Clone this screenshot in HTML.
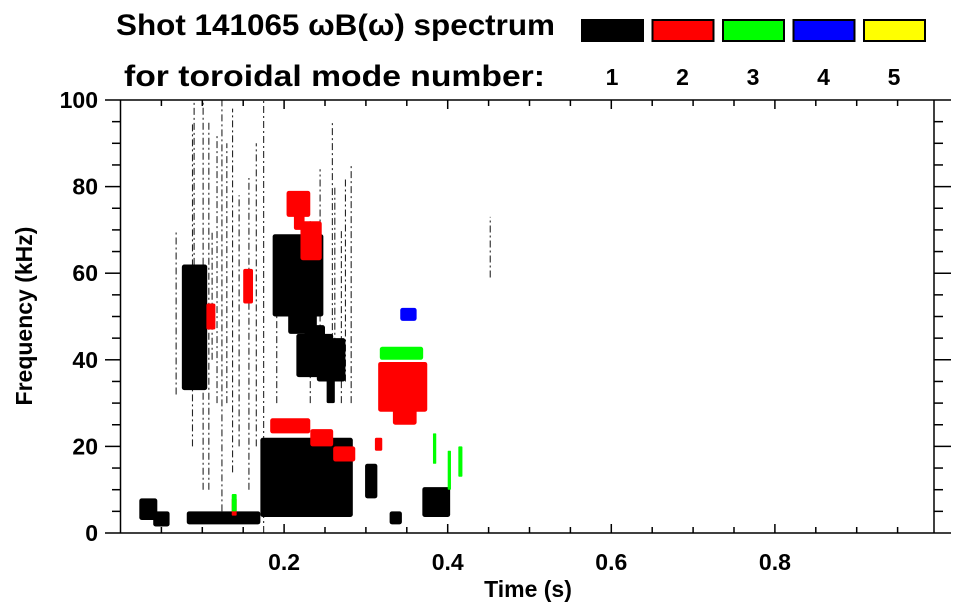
<!DOCTYPE html>
<html><head><meta charset="utf-8"><style>
html,body{margin:0;padding:0;background:#fff;}
svg{display:block;font-family:"Liberation Sans",Arial,sans-serif;font-weight:bold;}
</style></head><body>
<svg id="chart" width="963" height="615" viewBox="0 0 963 615">
<text x="116" y="35" font-size="30" textLength="439" lengthAdjust="spacingAndGlyphs">Shot 141065 ωB(ω) spectrum</text>
<text x="124" y="86" font-size="30" textLength="421" lengthAdjust="spacingAndGlyphs">for toroidal mode number:</text>
<g id="legend"></g>
<g id="marks"></g>
<g id="axes"></g>
<text x="528" y="597" font-size="23" text-anchor="middle">Time (s)</text>
<text transform="translate(32,316) rotate(-90)" font-size="23" text-anchor="middle">Frequency (kHz)</text>
</svg>
<script>
// ---- data ----
const modeColors = ["#000000","#ff0000","#00ff00","#0000ff","#ffff00"];
const modeLabels = ["1","2","3","4","5"];
const xTicks = [0.2,0.4,0.6,0.8];
const yTicks = [0,20,40,60,80,100];
// patches: time start, time end, freq low, freq high, mode index
const patchT0 = [0.171,0.176,0.186,0.192,0.205,0.225,0.075,0.080,0.299,0.369,0.375,0.023,0.040,0.081,0.329,0.215,0.240,0.252,
  0.203,0.212,0.220,0.183,0.232,0.260,0.315,0.333,0.311,0.105,0.150,0.136,
  0.317,0.382,0.400,0.413,0.136,0.342];
const patchT1 = [0.284,0.275,0.248,0.240,0.240,0.250,0.106,0.100,0.314,0.403,0.398,0.045,0.060,0.171,0.344,0.260,0.275,0.262,
  0.232,0.225,0.246,0.232,0.260,0.287,0.375,0.362,0.320,0.116,0.162,0.142,
  0.370,0.386,0.404,0.418,0.142,0.362];
const patchF0 = [3.7,6,50,54,46,38,33,40,8,3.7,5,3,1.5,2,2,36,35,30,
  73,70,63,23,20,16.5,28,25,19,47,53,4,
  40,16,10,13,5,49];
const patchF1 = [22,19,69,66,56,48,62,58,16,10.6,9,8,5,5,5,46,45,40,
  79,77,72,26.5,24,20,39.5,39,22,53,61,8,
  43,23,19,20,9,52];
const patchMode = [0,0,0,0,0,0,0,0,0,0,0,0,0,0,0,0,0,0,
  1,1,1,1,1,1,1,1,1,1,1,1,
  2,2,2,2,2,3];
// thin vertical spectral lines: time, freq low, freq high
const lineT = [0.068,0.101,0.108,0.124,0.130,0.137,0.157,0.175,0.244,0.259,0.262,0.270,0.282,0.088,0.118,0.145,0.191,0.232,0.452,0.090,0.112,0.166,0.275];
const lineF0 = [32,10,10,5,30,14,10,0,35,33,40,30,30,20,30,20,30,30,59,55,40,20,35];
const lineF1 = [70,100,95,100,90,98,82,100,84,95,80,70,85,95,92,78,68,72,73,100,70,90,82];

// ---- scales ----
const X0=120.5, X1=934, Y0=533, Y1=100;
const tMin=0, tMax=(X1-X0)/818;
function xs(t){return X0+(t-tMin)/(tMax-tMin)*(X1-X0);}
function ys(f){return Y0-(f/100)*(Y0-Y1);}
const NS="http://www.w3.org/2000/svg";
function mk(tag,attrs,parent){const e=document.createElementNS(NS,tag);for(const k in attrs)e.setAttribute(k,attrs[k]);parent.appendChild(e);return e;}

// legend
const lg=document.getElementById('legend');
modeColors.forEach((c,i)=>{
  const bx=582+i*70.5;
  const r=mk('rect',{x:bx,y:20,width:61,height:21,fill:c,stroke:'#000','stroke-width':2},lg);
  
  
  const t=mk('text',{x:bx+30,y:85,'font-size':23,'text-anchor':'middle'},lg);
  t.textContent=modeLabels[i];
  
  
});

// marks
const mg=document.getElementById('marks');
for(let i=0;i<lineT.length;i++){
  const x=xs(lineT[i]);
  const l=mk('line',{x1:x,x2:x,y1:ys(lineF0[i]),y2:ys(lineF1[i]),stroke:'#000','stroke-width':1.1,'stroke-dasharray':'7 3 2 3',opacity:0.85},mg);
  
  
}
for(let i=0;i<patchT0.length;i++){
  const x=xs(patchT0[i]),w=xs(patchT1[i])-x,y=ys(patchF1[i]),h=ys(patchF0[i])-y;
  const r=mk('rect',{x:x,y:y,width:Math.max(w,1.2),height:h,fill:modeColors[patchMode[i]],rx:Math.min(w,h,12)*0.2},mg);
  
  
}

// axes
const ax=document.getElementById('axes');
const st={stroke:'#000','stroke-width':1.5};
mk('line',Object.assign({x1:X0,x2:X0,y1:Y1,y2:Y0},st),ax);
mk('line',Object.assign({x1:X1,x2:X1,y1:Y1,y2:Y0},st),ax);
mk('line',Object.assign({x1:105,x2:951,y1:Y1,y2:Y1},st),ax);
mk('line',Object.assign({x1:105,x2:951,y1:Y0,y2:Y0},st),ax);
for(let k=1;k<20;k++){
  const t=k*0.05;if(xs(t)>=X1)break;
  const major=Math.abs(t*10-Math.round(t*10))<1e-6 && Math.round(t*10)%2===0;
  const L=major?9:6;
  mk('line',Object.assign({x1:xs(t),x2:xs(t),y1:Y1,y2:Y1+L},st),ax);
  mk('line',Object.assign({x1:xs(t),x2:xs(t),y1:Y0,y2:Y0-L},st),ax);
}
for(let f=5;f<100;f+=5){
  const major=f%20===0;
  mk('line',Object.assign({x1:major?105:112,x2:X0,y1:ys(f),y2:ys(f)},st),ax);
  mk('line',Object.assign({x1:X1,x2:major?951:943,y1:ys(f),y2:ys(f)},st),ax);
}
xTicks.forEach(t=>{
  const e=mk('text',{x:xs(t),y:570,'font-size':23,'text-anchor':'middle'},ax);
  e.textContent=t.toFixed(1);
  
  
});
yTicks.forEach(f=>{
  const e=mk('text',{x:98,y:ys(f)+8,'font-size':23,'text-anchor':'end'},ax);
  e.textContent=String(f);
  
  
});
</script>
</body></html>
